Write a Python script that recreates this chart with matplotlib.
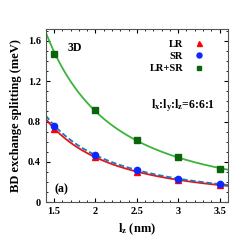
import matplotlib.pyplot as plt
import numpy as np
from matplotlib.ticker import MultipleLocator

plt.rcParams['font.family'] = ['Liberation Serif', 'DejaVu Serif']
plt.rcParams['font.weight'] = 'bold'
plt.rcParams['axes.labelweight'] = 'bold'
plt.rcParams['mathtext.fontset'] = 'custom'
plt.rcParams['mathtext.rm'] = 'Liberation Serif:bold'
plt.rcParams['mathtext.it'] = 'Liberation Serif:bold'

lz = np.array([1.5, 2.0, 2.5, 3.0, 3.5])
lr = np.array([0.73, 0.45, 0.30, 0.22, 0.17])
sr = np.array([0.76, 0.47, 0.32, 0.23, 0.18])
lr_sr = np.array([1.47, 0.91, 0.62, 0.45, 0.33])

def power_fit(x, y):
    # fit y = a * x^b on log-log scale
    b, loga = np.polyfit(np.log(x), np.log(y), 1)
    return lambda t: np.exp(loga) * t**b

fig = plt.figure(figsize=(2.45, 2.45), dpi=100)
ax = fig.add_axes([0.187, 0.175, 0.743, 0.707])

xs = np.linspace(1.4, 3.6, 200)
ax.plot(xs, power_fit(lz, lr)(xs), color='#e8141c', lw=1.3)
ax.plot(xs, power_fit(lz, sr)(xs), color='#1f77b4', lw=1.3, ls=(0, (3, 1.5)))
ax.plot(xs, power_fit(lz, lr_sr)(xs), color='#3cb43c', lw=1.3)

ax.plot(lz, lr, '^', color='red', ms=4.5, ls='none', label='LR')
ax.plot(lz, sr, 'o', color='#0a28ff', ms=4.5, ls='none', label='SR')
ax.plot(lz, lr_sr, 's', color='#0a640a', ms=4, ls='none', label='LR+SR')

ax.set_xlim(1.4, 3.6)
ax.set_ylim(0, 1.72)
ax.set_xticks([1.5, 2, 2.5, 3, 3.5])
ax.set_xticklabels(['1.5', '2', '2.5', '3', '3.5'])
ax.set_yticks([0, 0.4, 0.8, 1.2, 1.6])
ax.set_yticklabels(['0', '0.4', '0.8', '1.2', '1.6'])
ax.xaxis.set_minor_locator(MultipleLocator(0.1))
ax.yaxis.set_minor_locator(MultipleLocator(0.1))
ax.tick_params(which='both', direction='in', top=True, right=True, labelsize=7.5)
ax.tick_params(which='major', length=3)
ax.tick_params(which='minor', length=1.5)
for s in ax.spines.values():
    s.set_color('#555555')

ax.set_xlabel(r'l$_\mathregular{z}$ (nm)', fontsize=9, labelpad=4)
ax.set_ylabel('BD exchange splitting (meV)', fontsize=9, labelpad=4)

ax.text(1.66, 1.5, '3D', fontsize=8.5)
ax.text(1.5, 0.1, '(a)', fontsize=8.5)
ax.text(3.06, 0.93, r'l$_\mathregular{x}$:l$_\mathregular{y}$:l$_\mathregular{z}$=6:6:1',
        fontsize=8.5, ha='center')

# markerfirst=False right-aligns the labels against the markers
ax.legend(loc='upper right', bbox_to_anchor=(0.955, 1.0), frameon=False,
          markerfirst=False, fontsize=7.5, handletextpad=0.5,
          labelspacing=0.3, borderaxespad=0.6, markerscale=0.8)

fig.savefig('out.png', dpi=100)
